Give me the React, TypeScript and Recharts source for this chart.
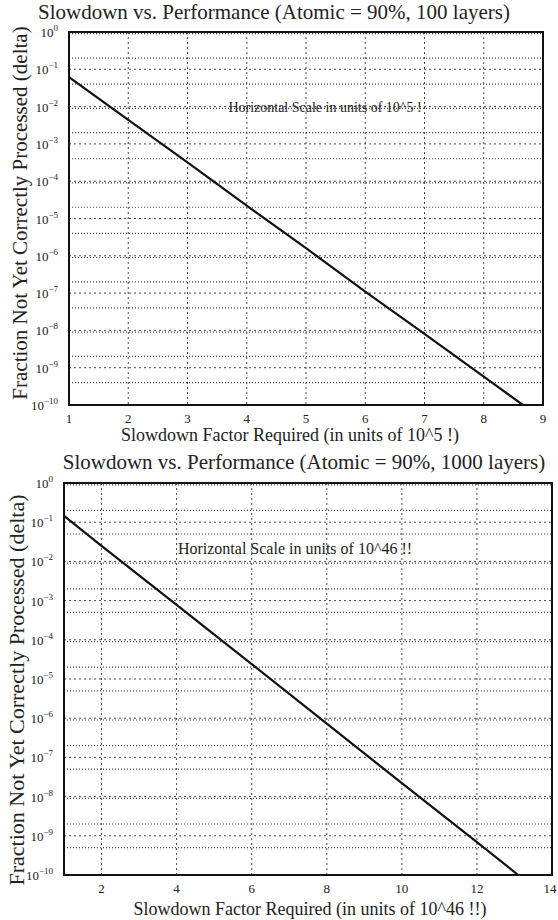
import React from "react";
import { LineChart, Line, XAxis, YAxis, CartesianGrid, ReferenceArea } from "recharts";

// top panel: 100 layers, x in units of 10^5
const xTop = [1, 2, 3, 4, 5, 6, 7, 8, 8.66];
const deltaTop = [6.2e-2, 4.4e-3, 3.2e-4, 2.2e-5, 1.6e-6, 1.1e-7, 8.1e-9, 5.8e-10, 1e-10];
const xTicksTop = [1, 2, 3, 4, 5, 6, 7, 8, 9];

// bottom panel: 1000 layers, x in units of 10^46
const xBottom = [1, 2, 4, 6, 8, 10, 12, 13.1];
const deltaBottom = [1.45e-1, 2.5e-2, 7.8e-4, 2.4e-5, 7.3e-7, 2.2e-8, 6.9e-10, 1e-10];
const xTicksBottom = [2, 4, 6, 8, 10, 12, 14];

const yTicks = [1, 1e-1, 1e-2, 1e-3, 1e-4, 1e-5, 1e-6, 1e-7, 1e-8, 1e-9, 1e-10];
const yMinor: number[] = [];
for (let e = -10; e < 0; e++) {
  for (let m = 2; m <= 9; m++) yMinor.push(m * Math.pow(10, e));
}

const serif = "'Liberation Serif', 'Times New Roman', serif";

const PowTick = (props: any) => {
  const { x, y, payload } = props;
  const e = Math.round(Math.log10(payload.value));
  return (
    <text x={x - 3} y={y + 5} textAnchor="end" fontFamily={serif} fontSize={13} fill="#222">
      10
      <tspan dy={-6} fontSize={9}>{e === 0 ? "0" : "\u2212" + Math.abs(e)}</tspan>
    </text>
  );
};

const XTick = (props: any) => {
  const { x, y, payload, dy } = props;
  return (
    <text x={x} y={y + dy} textAnchor="middle" fontFamily={serif} fontSize={13} fill="#222">
      {payload.value}
    </text>
  );
};

type PanelProps = {
  xs: number[];
  ys: number[];
  xTicks: number[];
  xDomain: [number, number];
  width: number;
  height: number;
  margin: { top: number; right: number; left: number; bottom: number };
  yAxisWidth: number;
  tickDy: number;
};

function Panel({ xs, ys, xTicks, xDomain, width, height, margin, yAxisWidth, tickDy }: PanelProps) {
  const data = xs.map((x, i) => ({ x, delta: ys[i] }));
  return (
    <LineChart width={width} height={height} data={data} margin={margin}>
      <CartesianGrid
        horizontalValues={yMinor}
        vertical={false}
        stroke="#444"
        strokeDasharray="1 2"
        strokeWidth={1.2}
      />
      <CartesianGrid
        horizontalValues={yTicks}
        verticalValues={xTicks}
        stroke="#333"
        strokeDasharray="2 3"
        strokeWidth={0.9}
      />
      <XAxis
        dataKey="x"
        type="number"
        domain={xDomain}
        ticks={xTicks}
        allowDataOverflow
        height={45}
        axisLine={false}
        tickLine={false}
        tick={<XTick dy={tickDy} />}
      />
      <YAxis
        dataKey="delta"
        scale="log"
        domain={[1e-10, 1]}
        ticks={yTicks}
        allowDataOverflow
        width={yAxisWidth}
        axisLine={false}
        tickLine={false}
        tick={<PowTick />}
      />
      <ReferenceArea
        x1={xDomain[0]}
        x2={xDomain[1]}
        y1={1e-10}
        y2={1}
        fill="none"
        stroke="#111"
        strokeWidth={2}
      />
      <Line
        type="linear"
        dataKey="delta"
        stroke="#111"
        strokeWidth={2.2}
        dot={false}
        isAnimationActive={false}
      />
    </LineChart>
  );
}

const txt = { fontFamily: serif, fill: "#222" } as const;

export default function App() {
  return (
    <div style={{ position: "absolute", left: 0, top: 0, width: 558, height: 920, background: "#fff" }}>
      <div style={{ position: "absolute", left: 0, top: 0 }}>
        <Panel
          xs={xTop}
          ys={deltaTop}
          xTicks={xTicksTop}
          xDomain={[1, 9]}
          width={558}
          height={450}
          margin={{ top: 32, right: 15, left: 0, bottom: 0 }}
          yAxisWidth={69}
          tickDy={10}
        />
      </div>
      <div style={{ position: "absolute", left: 0, top: 438 }}>
        <Panel
          xs={xBottom}
          ys={deltaBottom}
          xTicks={xTicksBottom}
          xDomain={[1, 14]}
          width={558}
          height={482}
          margin={{ top: 45, right: 6, left: 0, bottom: 0 }}
          yAxisWidth={64}
          tickDy={10}
        />
      </div>
      <svg
        width={558}
        height={920}
        style={{ position: "absolute", left: 0, top: 0, pointerEvents: "none" }}
      >
        <text x={274} y={19} textAnchor="middle" fontSize={21} {...txt}>
          Slowdown vs. Performance (Atomic = 90%, 100 layers)
        </text>
        <text x={290} y={441} textAnchor="middle" fontSize={18} {...txt}>
          Slowdown Factor Required (in units of 10^5 !)
        </text>
        <text x={325} y={112} textAnchor="middle" fontSize={14} {...txt}>
          Horizontal Scale in units of 10^5 !
        </text>
        <text
          transform="translate(27 213) rotate(-90)"
          textAnchor="middle"
          fontSize={21}
          {...txt}
        >
          Fraction Not Yet Correctly Processed (delta)
        </text>

        <text x={304} y={469} textAnchor="middle" fontSize={21} {...txt}>
          Slowdown vs. Performance (Atomic = 90%, 1000 layers)
        </text>
        <text x={310} y={915} textAnchor="middle" fontSize={18} {...txt}>
          Slowdown Factor Required (in units of 10^46 !!)
        </text>
        <text x={295} y={554} textAnchor="middle" fontSize={16} {...txt}>
          Horizontal Scale in units of 10^46 !!
        </text>
        <text
          transform="translate(24 690) rotate(-90)"
          textAnchor="middle"
          fontSize={22}
          {...txt}
        >
          Fraction Not Yet Correctly Processed (delta)
        </text>
      </svg>
    </div>
  );
}
